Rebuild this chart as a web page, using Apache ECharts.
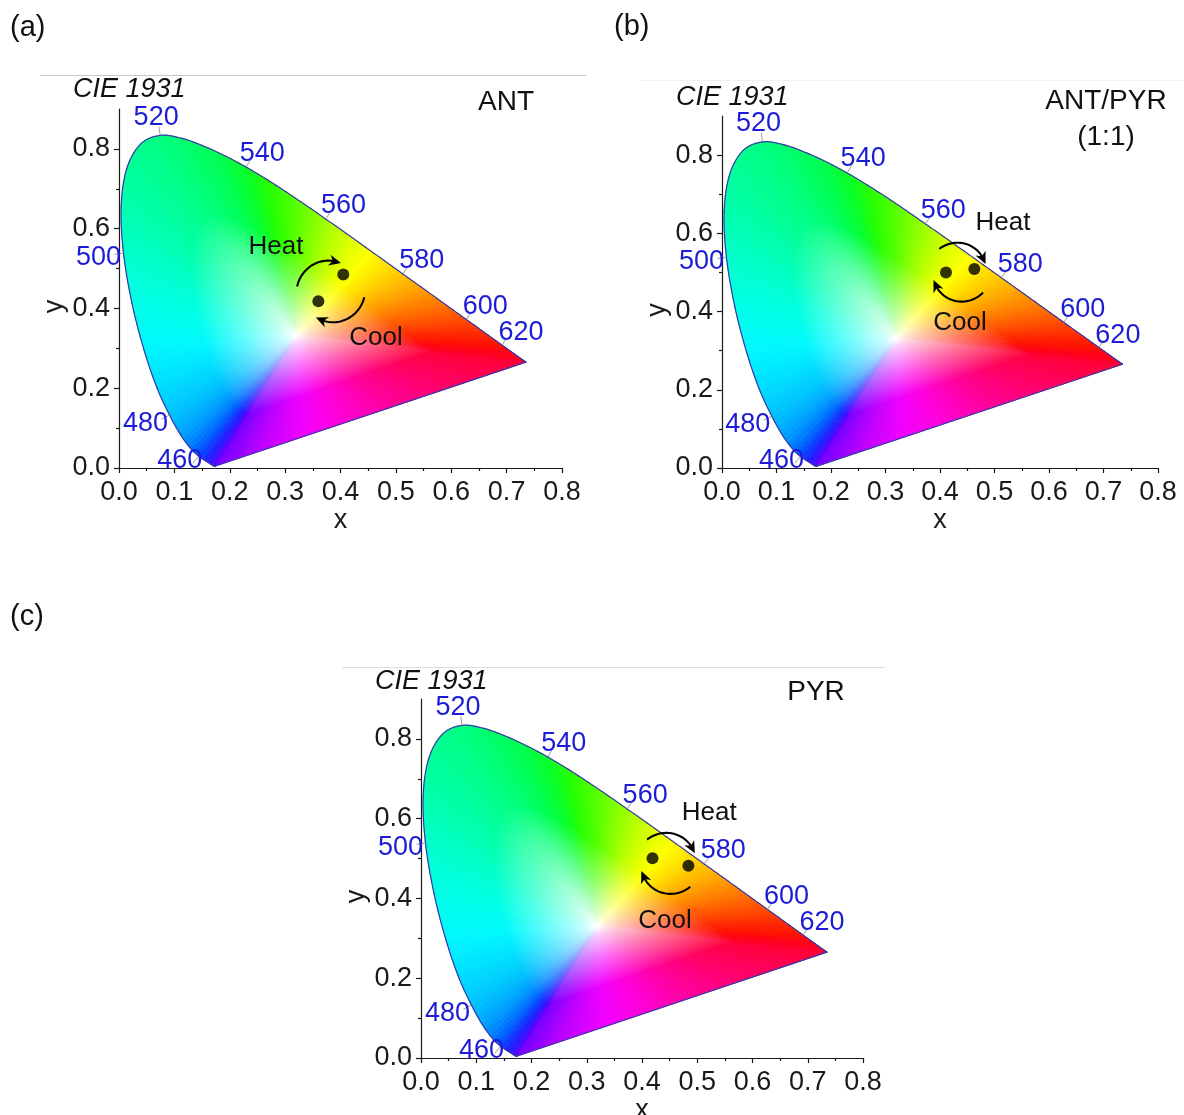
<!DOCTYPE html>
<html>
<head>
<meta charset="utf-8">
<script src="https://cdn.jsdelivr.net/npm/echarts@6/dist/echarts.min.js"></script>
<style>html,body{margin:0;padding:0;background:#fff}#chart{width:1184px;height:1115px}</style>
</head>
<body>
<div id="chart"></div>
<script>
// ================= DATA =================
// CIE 1931 2-degree spectral locus (chromaticity x, y) by wavelength (nm)
const wavelengths = [380,385,390,395,400,405,410,415,420,425,430,435,440,445,450,455,460,465,470,475,480,485,490,495,500,505,510,515,520,525,530,535,540,545,550,555,560,565,570,575,580,585,590,595,600,605,610,615,620,625,630,635,640,645,650,655,660,665,670,675,680,685,690,695,700];
const locusX = [0.17411,0.17401,0.17380,0.17356,0.17334,0.17302,0.17258,0.17209,0.17141,0.17030,0.16888,0.16690,0.16441,0.16110,0.15664,0.15099,0.14396,0.13550,0.12412,0.10959,0.09129,0.06871,0.04539,0.02346,0.00817,0.00386,0.01387,0.03885,0.07430,0.11416,0.15472,0.19288,0.22962,0.26578,0.30160,0.33736,0.37310,0.40874,0.44406,0.47877,0.51249,0.54479,0.57515,0.60293,0.62704,0.64823,0.66576,0.68008,0.69150,0.70061,0.70792,0.71403,0.71903,0.72303,0.72599,0.72827,0.72997,0.73109,0.73199,0.73272,0.73342,0.73405,0.73439,0.73459,0.73469];
const locusY = [0.00496,0.00498,0.00492,0.00492,0.00480,0.00478,0.00480,0.00483,0.00510,0.00579,0.00690,0.00856,0.01086,0.01379,0.01771,0.02274,0.02970,0.03988,0.05780,0.08684,0.13270,0.20072,0.29498,0.41270,0.53842,0.65482,0.75019,0.81202,0.83380,0.82621,0.80586,0.78163,0.75433,0.72432,0.69231,0.65885,0.62445,0.58961,0.55471,0.52020,0.48659,0.45443,0.42423,0.39650,0.37249,0.35139,0.33401,0.31975,0.30834,0.29930,0.29203,0.28593,0.28093,0.27695,0.27401,0.27173,0.27003,0.26891,0.26801,0.26728,0.26658,0.26595,0.26561,0.26541,0.26531];
const labeledWavelengths = [460,480,500,520,540,560,580,600,620];
const whitePoint = [0.32, 0.33];

// measured chromaticity points (two states per sample)
const antDotX = [0.405, 0.360];
const antDotY = [0.485, 0.418];
const antPyrDotX = [0.411, 0.463];
const antPyrDotY = [0.500, 0.509];
const pyrDotX = [0.419, 0.484];
const pyrDotY = [0.501, 0.482];

const xTickValues = [0.0,0.1,0.2,0.3,0.4,0.5,0.6,0.7,0.8];
const yTickValues = [0.0,0.2,0.4,0.6,0.8];
const yMinorTickValues = [0.1,0.3,0.5,0.7];
const annotationTexts = ['Heat','Cool'];
const panelTitles = [['ANT'],['ANT/PYR','(1:1)'],['PYR']];
const panelLetters = ['(a)','(b)','(c)'];

// ================= STYLE / LAYOUT =================
const FONT = '"Liberation Sans", Arial, Helvetica, sans-serif';
const spectrumColorStops = [
  [380,'#7400ff'],[420,'#5a00ff'],[440,'#3a10ff'],[450,'#2020ff'],[460,'#0848ff'],[465,'#0064ff'],
  [470,'#0084ff'],[475,'#00a4ff'],[480,'#00c2ff'],[485,'#00dcff'],[490,'#00f6ff'],[495,'#00ffe8'],
  [500,'#00ffcc'],[505,'#00ffb0'],[512,'#00ff94'],[522,'#00ff78'],[532,'#00ff54'],[540,'#08ff28'],
  [546,'#28ff00'],[552,'#50ff00'],[558,'#88ff00'],[563,'#b8ff00'],[568,'#e4ff00'],[572,'#ffff00'],
  [577,'#ffdc00'],[582,'#ffb800'],[588,'#ff9000'],[595,'#ff6400'],[602,'#ff4400'],[610,'#ff2400'],
  [620,'#ff1000'],[635,'#ff0018'],[700,'#ff0034']
];
const purpleColorStops = [
  [0,'#ff0034'],[0.25,'#ff0068'],[0.42,'#ff0098'],[0.6,'#ff00dc'],[0.72,'#f000ff'],[0.85,'#c000ff'],[1,'#7400ff']
];
const labelOffsets = {
  460:[-19,4], 480:[-24,8], 500:[-25,4], 520:[-4,-18], 540:[16,-14],
  560:[18,-13], 580:[19,-13], 600:[19,-13], 620:[19,-12]
};
const layout = [
  {grid:{left:119, top:109, width:443, height:359}, letterPos:[10,28], ciePos:[73,89], titlePos:[506,102],
   rule:{x1:40, x2:586, y:75.5, color:'#c8c8c8'},
   arc:{c:[0.3825,0.443], r0:34, r1:30, heat:[172,76], cool:[-10,-114]},
   textPos:[[0.2835,0.555],[0.464,0.326]]},
  {grid:{left:722, top:116, width:436, height:352}, letterPos:[614,27], ciePos:[676,97], titlePos:[1106,101],
   rule:{x1:640, x2:1184, y:80.5, color:'#f0f0f0'},
   arc:{c:[0.436,0.5005], r0:31, r1:27, heat:[131,24], cool:[-41,-157]},
   textPos:[[0.5156,0.6256],[0.4367,0.3708]]},
  {grid:{left:421, top:699, width:442, height:359}, letterPos:[10,617], ciePos:[375,681], titlePos:[816,692],
   rule:{x1:342, x2:885, y:667.5, color:'#dedede'},
   arc:{c:[0.448,0.488], r0:32, r1:28, heat:[132,27], cool:[-47,-158]},
   textPos:[[0.5216,0.6137],[0.4416,0.3443]]}
];
const dotSets = [[antDotX, antDotY],[antPyrDotX, antPyrDotY],[pyrDotX, pyrDotY]];

// ================= HELPERS =================
function hexToRgb(h){ return [parseInt(h.substr(1,2),16),parseInt(h.substr(3,2),16),parseInt(h.substr(5,2),16)]; }
function rgbStr(c){ return 'rgb('+Math.round(c[0])+','+Math.round(c[1])+','+Math.round(c[2])+')'; }
function mixRgb(a,b,t){ return [a[0]+(b[0]-a[0])*t, a[1]+(b[1]-a[1])*t, a[2]+(b[2]-a[2])*t]; }
function stopColor(stops, v){
  if (v <= stops[0][0]) return hexToRgb(stops[0][1]);
  for (let k=1;k<stops.length;k++){
    if (v <= stops[k][0]){
      const t=(v-stops[k-1][0])/(stops[k][0]-stops[k-1][0]);
      return mixRgb(hexToRgb(stops[k-1][1]), hexToRgb(stops[k][1]), t);
    }
  }
  return hexToRgb(stops[stops.length-1][1]);
}
function satGradient(W, M, c){
  const white=[255,255,255];
  return {type:'linear', x:W[0], y:W[1], x2:M[0], y2:M[1], global:true, colorStops:[
    {offset:0, color:'#ffffff'},
    {offset:0.08, color:rgbStr(mixRgb(white,c,0.2))},
    {offset:0.3, color:rgbStr(mixRgb(white,c,0.56))},
    {offset:0.6, color:rgbStr(c)},
    {offset:1, color:rgbStr(c)}
  ]};
}
function locusPixel(api, j){
  const jj = Math.max(0, Math.min(nL-1, j));
  return api.coord([locusX[jj], locusY[jj]]);
}
// Catmull-Rom smoothing between locus points (pixel space)
function splinePoint(P0,P1,P2,P3,t){
  const t2=t*t, t3=t2*t;
  return [0,1].map(d=>0.5*((2*P1[d]) + (-P0[d]+P2[d])*t + (2*P0[d]-5*P1[d]+4*P2[d]-P3[d])*t2 + (-P0[d]+3*P1[d]-3*P2[d]+P3[d])*t3));
}

// ================= SERIES BUILDERS =================
const nL = wavelengths.length;
const fanData = wavelengths.map((w,i)=>[locusX[i], locusY[i], i]);
const wlData = labeledWavelengths.map(w=>{ const j=wavelengths.indexOf(w); return [locusX[j], locusY[j], w, j]; });

// edge i: spectral locus segment i..i+1, edge nL-1: line of purples
function edgeFn(api, i){
  if (i < nL-1){
    const P0=locusPixel(api,i-1), P1=locusPixel(api,i), P2=locusPixel(api,i+1), P3=locusPixel(api,i+2);
    return t => splinePoint(P0,P1,P2,P3,t);
  }
  const P=locusPixel(api,nL-1), Q=locusPixel(api,0);
  return t => [P[0]+(Q[0]-P[0])*t, P[1]+(Q[1]-P[1])*t];
}

function fanRender(params, api){
  const i = api.value(2);
  const W = api.coord(whitePoint);
  const f = edgeFn(api, i);
  let colorAt;
  if (i < nL-1){
    const w0=wavelengths[i], w1=wavelengths[i+1];
    colorAt = t => stopColor(spectrumColorStops, w0+(w1-w0)*t);
  } else {
    colorAt = t => stopColor(purpleColorStops, t);
  }
  const P=f(0), Q=f(1);
  const len = Math.hypot(Q[0]-P[0], Q[1]-P[1]);
  const k = Math.max(1, Math.ceil(len/6));
  const children = [];
  for (let s=0;s<k;s++){
    const t0=s/k, t1=(s+1)/k, tm=(t0+t1)/2;
    const A=f(t0), B=f(t1), M=f(tm);
    const g = satGradient(W, M, colorAt(tm));
    children.push({type:'polygon', shape:{points:[W,A,M,B]}, style:{fill:g, stroke:g, lineWidth:0.9}, silent:true});
  }
  return {type:'group', children};
}

function borderRender(params, api){
  const i = api.value(2);
  const f = edgeFn(api, i);
  const pts=[]; const N = (i < nL-1) ? 8 : 1;
  for (let s=0;s<=N;s++) pts.push(f(s/N));
  return {type:'polyline', shape:{points:pts}, style:{stroke:'#3a3aa6', lineWidth:1.2, fill:null, lineCap:'round', lineJoin:'round'}};
}

function wlRender(params, api){
  const w = api.value(2), j = api.value(3);
  const p = api.coord([api.value(0), api.value(1)]);
  const a = api.coord([locusX[j-1], locusY[j-1]]);
  const b = api.coord([locusX[j+1], locusY[j+1]]);
  let dx=b[0]-a[0], dy=b[1]-a[1]; const L=Math.hypot(dx,dy); dx/=L; dy/=L;
  const nx=dy, ny=-dx;
  const off = labelOffsets[w];
  return {type:'group', children:[
    {type:'line', shape:{x1:p[0], y1:p[1], x2:p[0]+nx*9, y2:p[1]+ny*9}, style:{stroke:'#9a9a9a', lineWidth:1}, z2:5},
    {type:'text', x:p[0]+off[0], y:p[1]+off[1], z2:6,
     style:{text:String(w), fill:'#1c1cd6', font:'27px '+FONT, textAlign:'center', textVerticalAlign:'middle'}}
  ]};
}

function arcElements(C, r0, r1, a0, a1){
  const pts=[]; const N=40;
  for (let k=0;k<=N;k++){
    const t=k/N, a=(a0+(a1-a0)*t)*Math.PI/180, r=r0+(r1-r0)*t;
    pts.push([C[0]+r*Math.cos(a), C[1]-r*Math.sin(a)]);
  }
  const E=pts[N], Pp=pts[N-4];
  let dx=E[0]-Pp[0], dy=E[1]-Pp[1]; const L=Math.hypot(dx,dy); dx/=L; dy/=L;
  const tip=[E[0]+dx*3, E[1]+dy*3];
  const base=[E[0]-dx*9, E[1]-dy*9];
  const notch=[E[0]-dx*5.5, E[1]-dy*5.5];
  const hw=5.5;
  const head=[tip,[base[0]-dy*hw, base[1]+dx*hw], notch, [base[0]+dy*hw, base[1]-dx*hw]];
  return [
    {type:'polyline', shape:{points:pts.slice(0,N-2)}, style:{stroke:'#000', lineWidth:2.1, fill:null}},
    {type:'polygon', shape:{points:head}, style:{fill:'#000'}}
  ];
}

const grids=[], xAxes=[], yAxes=[], yMinorAxes=[], series=[], graphics=[];
layout.forEach((L, pi)=>{
  grids.push(Object.assign({outerBoundsMode:'none', containLabel:false}, L.grid));
  xAxes.push({
    gridIndex:pi, type:'value', min:0, max:0.8, interval:0.1,
    name:'x', nameLocation:'middle', nameGap:34,
    nameTextStyle:{fontFamily:FONT, fontSize:27, color:'#1a1a1a'},
    axisLine:{show:true, onZero:false, lineStyle:{color:'#1a1a1a', width:1.2}},
    axisTick:{show:true, inside:false, length:5, lineStyle:{color:'#1a1a1a', width:1.2}},
    minorTick:{show:true, splitNumber:2, length:3, lineStyle:{color:'#1a1a1a', width:1.2}},
    axisLabel:{fontFamily:FONT, fontSize:27, color:'#1a1a1a', margin:11, formatter:v=>v.toFixed(1), showMinLabel:true, showMaxLabel:true, hideOverlap:false},
    splitLine:{show:false}, minorSplitLine:{show:false}
  });
  yAxes.push({
    gridIndex:pi, type:'value', position:'left', min:0, max:0.9, interval:0.1,
    name:'y', nameLocation:'middle', nameGap:51, nameRotate:90,
    nameTextStyle:{fontFamily:FONT, fontSize:27, color:'#1a1a1a', padding:[0,36,0,0]},
    axisLine:{show:true, onZero:false, lineStyle:{color:'#1a1a1a', width:1.2}},
    axisTick:{show:true, inside:false, length:5, customValues:yTickValues, lineStyle:{color:'#1a1a1a', width:1.2}},
    axisLabel:{fontFamily:FONT, fontSize:27, color:'#1a1a1a', margin:9, customValues:yTickValues, formatter:v=>v.toFixed(1)},
    splitLine:{show:false}
  });
  yMinorAxes.push({
    gridIndex:pi, type:'value', position:'left', offset:0, min:0, max:0.9, interval:0.1,
    axisLine:{show:false},
    axisTick:{show:true, inside:false, length:3, customValues:yMinorTickValues, lineStyle:{color:'#1a1a1a', width:1.2}},
    axisLabel:{show:false}, splitLine:{show:false}
  });

  // colour fan (gamut fill)
  series.push({type:'custom', xAxisIndex:pi, yAxisIndex:pi, silent:true, clip:false, z:1,
    data:fanData, renderItem:fanRender});
  // locus border
  series.push({type:'custom', xAxisIndex:pi, yAxisIndex:pi, silent:true, clip:false, z:3,
    data:fanData, renderItem:borderRender});
  // wavelength labels
  series.push({type:'custom', xAxisIndex:pi, yAxisIndex:pi, silent:true, clip:false, z:4,
    data:wlData, renderItem:wlRender});
  // heat / cool arrows
  const A = L.arc;
  series.push({type:'custom', xAxisIndex:pi, yAxisIndex:pi, silent:true, clip:false, z:5,
    data:[[A.c[0], A.c[1]]],
    renderItem:function(params, api){
      const C = api.coord([api.value(0), api.value(1)]);
      return {type:'group', children: arcElements(C, A.r0, A.r1, A.heat[0], A.heat[1])
        .concat(arcElements(C, A.r0, A.r1, A.cool[0], A.cool[1]))};
    }});
  // Heat / Cool texts
  series.push({type:'custom', xAxisIndex:pi, yAxisIndex:pi, silent:true, clip:false, z:6,
    data:L.textPos.map((p,k)=>[p[0], p[1], k]),
    renderItem:function(params, api){
      const p = api.coord([api.value(0), api.value(1)]);
      return {type:'text', x:p[0], y:p[1],
        style:{text:annotationTexts[api.value(2)], fill:'#111', font:'26px '+FONT, textAlign:'center', textVerticalAlign:'middle'}};
    }});
  // measured points
  const ds = dotSets[pi];
  series.push({type:'scatter', xAxisIndex:pi, yAxisIndex:pi, silent:true, z:7, symbol:'circle', symbolSize:12,
    itemStyle:{color:'#000'}, data:ds[0].map((x,k)=>[x, ds[1][k]])});

  // page texts
  graphics.push({type:'line', shape:{x1:L.rule.x1, y1:L.rule.y, x2:L.rule.x2, y2:L.rule.y}, style:{stroke:L.rule.color, lineWidth:1}});
  graphics.push({type:'text', x:L.letterPos[0], y:L.letterPos[1],
    style:{text:panelLetters[pi], font:'29px '+FONT, fill:'#111', textAlign:'left', textVerticalAlign:'middle'}});
  graphics.push({type:'text', x:L.ciePos[0], y:L.ciePos[1],
    style:{text:'CIE 1931', font:'italic 27px '+FONT, fill:'#111', textAlign:'left', textVerticalAlign:'middle'}});
  panelTitles[pi].forEach((t,k)=>{
    graphics.push({type:'text', x:L.titlePos[0], y:L.titlePos[1]+k*36,
      style:{text:t, font:'28px '+FONT, fill:'#111', textAlign:'center', textVerticalAlign:'middle'}});
  });
});

const chart = echarts.init(document.getElementById('chart'), null, {renderer:'canvas'});
chart.setOption({
  animation:false,
  backgroundColor:'#ffffff',
  grid:grids,
  xAxis:xAxes,
  yAxis:yAxes.concat(yMinorAxes),
  series:series,
  graphic:graphics
});
</script>
</body>
</html>
